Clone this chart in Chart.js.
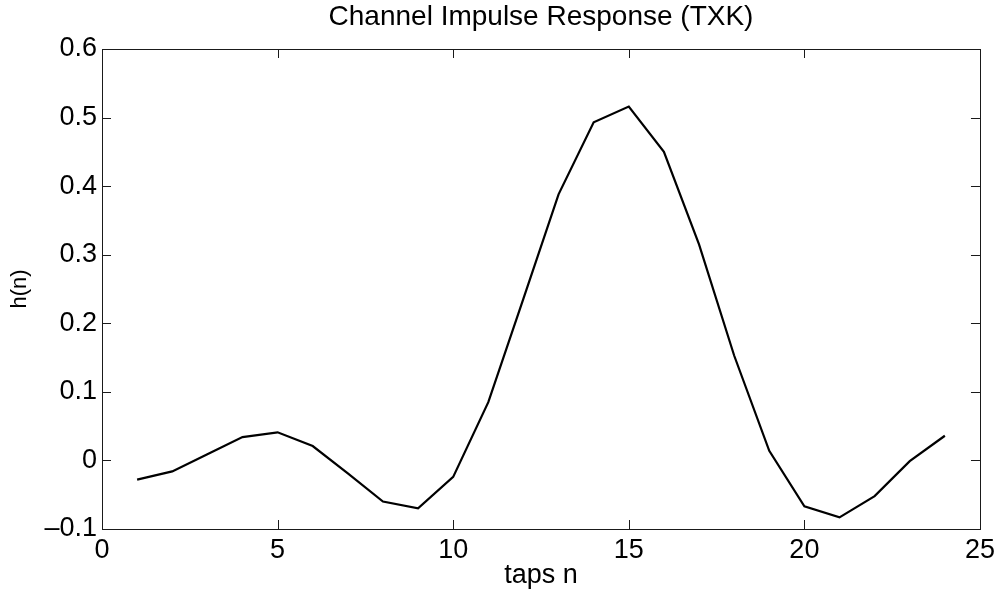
<!DOCTYPE html>
<html>
<head>
<meta charset="utf-8">
<title>Channel Impulse Response</title>
<script src="https://cdn.jsdelivr.net/npm/chart.js@4.4.1/dist/chart.umd.min.js"></script>
<style>
  html, body { margin: 0; padding: 0; background: #fff; }
  #wrap { width: 1000px; height: 596px; }
</style>
</head>
<body>
<div id="wrap"><canvas id="cir"></canvas></div>
<script>
// tap index and impulse response values h(n)
var taps = [1, 2, 3, 4, 5, 6, 7, 8, 9, 10, 11, 12, 13, 14, 15, 16, 17, 18, 19, 20, 21, 22, 23, 24];
var response = [-0.028, -0.016, 0.009, 0.034, 0.041, 0.021, -0.019, -0.060, -0.070, -0.024,
                0.085, 0.236, 0.388, 0.493, 0.516, 0.450, 0.315, 0.153, 0.014, -0.067,
                -0.083, -0.052, -0.001, 0.036];
var xTicks = [0, 5, 10, 15, 20, 25];
var yTicks = [-0.1, 0, 0.1, 0.2, 0.3, 0.4, 0.5, 0.6];

var FONT = 'Liberation Sans, Arial, Helvetica, sans-serif';
var AXIS_COLOR = '#1a1a1a';

function fmtY(v) {
    if (Math.abs(v) < 1e-9) return '0';
    return v < 0 ? '\u2013' + Math.abs(v).toFixed(1) : v.toFixed(1);
}

// box around the plot area with inward tick marks on all four sides
var boxTicks = {
    id: 'boxTicks',
    afterDraw: function(chart) {
        var ctx = chart.ctx, a = chart.chartArea;
        var xs = chart.scales.x, ys = chart.scales.y;
        var len = 9;
        ctx.save();
        ctx.strokeStyle = AXIS_COLOR;
        ctx.lineWidth = 1;
        ctx.beginPath();
        xTicks.forEach(function(t) {
            var px = Math.round(xs.getPixelForValue(t)) + 0.5;
            ctx.moveTo(px, a.bottom); ctx.lineTo(px, a.bottom - len);
            ctx.moveTo(px, a.top); ctx.lineTo(px, a.top + len);
        });
        yTicks.forEach(function(t) {
            var py = Math.round(ys.getPixelForValue(t)) + 0.5;
            ctx.moveTo(a.left, py); ctx.lineTo(a.left + len, py);
            ctx.moveTo(a.right, py); ctx.lineTo(a.right - len, py);
        });
        ctx.stroke();
        ctx.strokeRect(Math.round(a.left) + 0.5, Math.round(a.top) + 0.5,
                       Math.round(a.right - a.left), Math.round(a.bottom - a.top));
        ctx.restore();
    }
};

var ctx = document.getElementById('cir').getContext('2d');
var chart = new Chart(ctx, {
    type: 'line',
    data: {
        datasets: [{
            data: taps.map(function(n, i) { return { x: n, y: response[i] }; }),
            borderColor: '#000',
            borderWidth: 2.2,
            pointRadius: 0,
            tension: 0,
            fill: false
        }]
    },
    options: {
        responsive: true,
        maintainAspectRatio: false,
        animation: false,
        layout: { padding: { left: 0, right: 18, top: 0, bottom: 0 } },
        plugins: {
            legend: { display: false },
            tooltip: { enabled: false },
            title: {
                display: true,
                text: 'Channel Impulse Response (TXK)',
                color: '#000',
                fullSize: false,
                font: { family: FONT, size: 28, weight: 'normal' },
                padding: { top: 0.5, bottom: 14.9 }
            }
        },
        scales: {
            x: {
                type: 'linear',
                min: 0,
                max: 25,
                afterBuildTicks: function(s) { s.ticks = xTicks.map(function(v) { return { value: v }; }); },
                afterFit: function(s) { s.height = 67; },
                grid: { display: false, drawTicks: false },
                border: { display: false },
                ticks: {
                    color: '#000',
                    padding: 5,
                    maxRotation: 0,
                    font: { family: FONT, size: 27 }
                },
                title: {
                    display: true,
                    text: 'taps n',
                    color: '#000',
                    font: { family: FONT, size: 27 },
                    padding: { bottom: 4 }
                }
            },
            y: {
                min: -0.1,
                max: 0.6,
                afterBuildTicks: function(s) { s.ticks = yTicks.map(function(v) { return { value: v }; }); },
                afterFit: function(s) { s.width = 102; },
                grid: { display: false, drawTicks: false },
                border: { display: false },
                ticks: {
                    color: '#000',
                    padding: 5,
                    font: { family: FONT, size: 27 },
                    callback: function(v) { return fmtY(v); }
                },
                title: {
                    display: true,
                    text: 'h(n)',
                    color: '#000',
                    font: { family: FONT, size: 22 },
                    padding: { top: 7 }
                }
            }
        }
    },
    plugins: [boxTicks]
});
</script>
</body>
</html>
